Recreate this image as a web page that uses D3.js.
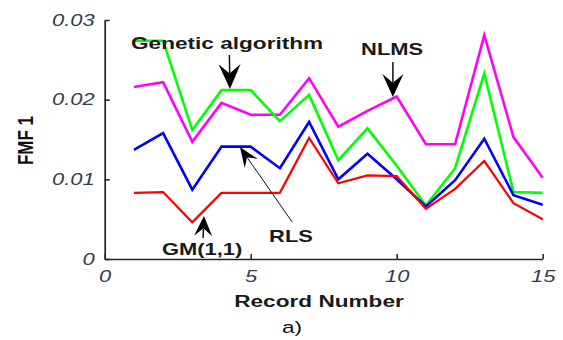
<!DOCTYPE html>
<html>
<head>
<meta charset="utf-8">
<script src="https://cdn.jsdelivr.net/npm/d3@7"></script>
<style>
  body { margin: 0; background: #fff; }
  svg { display: block; }
</style>
</head>
<body>
<svg id="chart" width="563" height="340"></svg>
<script>
// Record numbers on the x axis
const recordNumbers = [1, 2, 3, 4, 5, 6, 7, 8, 9, 10, 11, 12, 13, 14, 15];

// FMF1 per record for each predictor
const nlmsValues = [0.0216, 0.0222, 0.0147, 0.0196, 0.0181, 0.0181, 0.0227, 0.0166, 0.0186, 0.0204, 0.0144, 0.0144, 0.0281, 0.0153, 0.0102];
const geneticValues = [0.0274, 0.0274, 0.0162, 0.0212, 0.0212, 0.0173, 0.0206, 0.0124, 0.0164, 0.0117, 0.0067, 0.0114, 0.0233, 0.0084, 0.0083];
const rlsValues = [0.0137, 0.0158, 0.0087, 0.0141, 0.0141, 0.0114, 0.0172, 0.0100, 0.0132, 0.0100, 0.0066, 0.0099, 0.0151, 0.0080, 0.0068];
const gmValues = [0.0083, 0.0084, 0.0046, 0.0083, 0.0083, 0.0083, 0.0152, 0.0095, 0.0105, 0.0104, 0.0063, 0.0088, 0.0123, 0.0070, 0.0050];

const seriesNames = ["NLMS", "Genetic algorithm", "RLS", "GM(1,1)"];
const seriesColors = ["#ff00ff", "#00ff00", "#0000ff", "#ff0000"];
const seriesValues = [nlmsValues, geneticValues, rlsValues, gmValues];

// Axis ticks
const xTickValues = [0, 5, 10, 15];
const xTickLabels = ["0", "5", "10", "15"];
const yTickValues = [0, 0.01, 0.02, 0.03];
const yTickLabels = ["0", "0.01", "0.02", "0.03"];

// Callout labels and arrows, in data units
const calloutLabels = ["Genetic algorithm", "NLMS", "RLS", "GM(1,1)"];
const calloutTextX = [0.90, 8.78, 5.63, 1.96];
const calloutTextY = [0.02635, 0.0256, 0.00213, 0.0005];
const arrowTailX = [4.27, 9.87, 6.42, 3.37];
const arrowTailY = [0.0256, 0.02472, 0.00464, 0.00263];
const arrowTipX = [4.29, 9.87, 4.63, 3.40];
const arrowTipY = [0.02133, 0.02033, 0.01405, 0.0054];

const FONT = "'Liberation Sans', Arial, Helvetica, sans-serif";
const STRETCH = 1.33; // glyphs drawn wide

const svg = d3.select("#chart");

const x = d3.scaleLinear().domain([0, 15]).range([104.7, 542.7]);
const y = d3.scaleLinear().domain([0, 0.03]).range([259, 20]);

// Axes (ticks point inward)
const xAxis = d3.axisBottom(x)
  .tickValues(xTickValues)
  .tickFormat((d, i) => xTickLabels[i])
  .tickSizeInner(-5).tickSizeOuter(0).tickPadding(11);
const yAxis = d3.axisLeft(y)
  .tickValues(yTickValues)
  .tickFormat((d, i) => yTickLabels[i])
  .tickSizeInner(-5).tickSizeOuter(0).tickPadding(10);

const gx = svg.append("g").attr("transform", `translate(0,${y(0)})`).call(xAxis);
const gy = svg.append("g").attr("transform", `translate(${x(0)},0)`).call(yAxis);

[gx, gy].forEach(g => {
  g.select(".domain").attr("stroke", "#222").attr("stroke-width", 1.7);
  g.selectAll(".tick line").attr("stroke", "#222").attr("stroke-width", 1.5);
  g.selectAll(".tick text")
    .attr("font-family", FONT)
    .attr("font-size", 16.5)
    .attr("font-style", "italic")
    .attr("fill", "#333a55");
});
gy.selectAll(".tick text").attr("x", null)
  .attr("transform", `translate(-10,0) scale(${STRETCH},1)`);
gx.selectAll(".tick text").attr("transform", `scale(${STRETCH},1)`);

// Series lines
const line = d3.line()
  .x((d, i) => x(recordNumbers[i]))
  .y(d => y(d));

svg.append("g").selectAll("path")
  .data(seriesValues)
  .join("path")
  .attr("d", d => line(d))
  .attr("fill", "none")
  .attr("stroke", (d, i) => seriesColors[i])
  .attr("stroke-width", (d, i) => i === 3 ? 2.2 : 2.6)
  .attr("stroke-linejoin", "miter");

// Callout arrows
const headLength = [25, 23, 20, 20];
const headHalf = [11, 10.5, 8, 9];
const shaftWidth = [1.5, 1.5, 1, 1.5];
const arrows = svg.append("g");
calloutLabels.forEach((name, i) => {
  const tx = x(arrowTailX[i]), ty = y(arrowTailY[i]);
  const px = x(arrowTipX[i]), py = y(arrowTipY[i]);
  const dx = px - tx, dy = py - ty;
  const len = Math.hypot(dx, dy);
  const ux = dx / len, uy = dy / len;
  const nx = -uy, ny = ux;
  const L = headLength[i], H = headHalf[i];
  const bx = px - ux * L, by = py - uy * L;
  const cx = px - ux * L * 0.62, cy = py - uy * L * 0.62;
  arrows.append("line")
    .attr("x1", tx).attr("y1", ty)
    .attr("x2", cx).attr("y2", cy)
    .attr("stroke", "#111").attr("stroke-width", shaftWidth[i]);
  arrows.append("polygon")
    .attr("points", [
      [px, py],
      [bx + nx * H, by + ny * H],
      [cx, cy],
      [bx - nx * H, by - ny * H]
    ].map(p => p.join(",")).join(" "))
    .attr("fill", "#000");
});

// Callout labels
svg.append("g").selectAll("text")
  .data(calloutLabels)
  .join("text")
  .attr("transform", (d, i) => `translate(${x(calloutTextX[i])},${y(calloutTextY[i])}) scale(${STRETCH},1)`)
  .attr("font-family", FONT)
  .attr("font-weight", "bold")
  .attr("font-size", (d, i) => i === 0 ? 17 : 16.5)
  .attr("fill", "#1a1a1a")
  .text(d => d);

// Axis titles
svg.append("text")
  .attr("transform", `translate(319,307) scale(${STRETCH},1)`)
  .attr("text-anchor", "middle")
  .attr("font-family", FONT).attr("font-weight", "bold").attr("font-size", 17)
  .attr("fill", "#1a1a1a")
  .text("Record Number");

svg.append("text")
  .attr("transform", `translate(33,140.5) scale(${STRETCH},1) rotate(-90)`)
  .attr("text-anchor", "middle")
  .attr("font-family", FONT).attr("font-weight", "bold").attr("font-size", 17)
  .attr("fill", "#111")
  .text("FMF 1");

svg.append("text")
  .attr("transform", `translate(292,333) scale(${STRETCH},1)`)
  .attr("text-anchor", "middle")
  .attr("font-family", FONT).attr("font-size", 17)
  .attr("fill", "#111")
  .text("a)");
</script>
</body>
</html>
